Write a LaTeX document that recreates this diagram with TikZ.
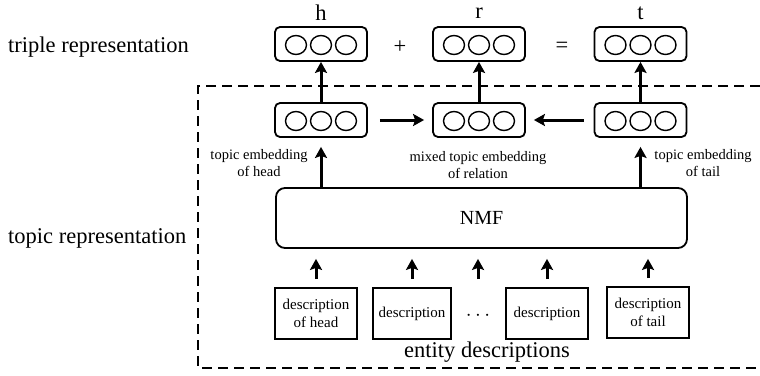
\documentclass[tikz,border=0pt]{standalone}
\usepackage{fontspec}
\setmainfont{Liberation Serif}
\usetikzlibrary{arrows.meta,calc}

\tikzset{
  vecbox/.style={draw, line width=1.8pt, rounded corners=5pt,
    minimum width=92pt, minimum height=34pt, inner sep=0pt},
  descbox/.style={draw, line width=1.8pt, minimum height=51pt,
    inner sep=0pt, align=center,
    font=\fontsize{15}{18}\selectfont},
  bigbox/.style={draw, line width=1.8pt, rounded corners=9pt,
    minimum width=411pt, minimum height=60pt, inner sep=0pt,
    font=\fontsize{20}{24}\selectfont},
  unit/.style={line width=1.4pt},
  arr/.style={line width=3pt, -{Stealth[length=11pt,width=12pt,inset=2pt]}},
  biglabel/.style={font=\fontsize{22.5}{27}\selectfont, inner sep=0pt},
  smalllabel/.style={font=\fontsize{14.5}{17}\selectfont, align=center, inner sep=0pt},
  frame/.style={line width=1.8pt, dash pattern=on 10pt off 6pt},
}

\begin{document}
\begin{tikzpicture}[x=1pt,y=-1pt]
\useasboundingbox (0,0) rectangle (760,375);

% section titles
\node[biglabel, anchor=west] (ttriple) at (8,47) {triple representation};
\node[biglabel, anchor=west] (ttopic) at (8,238) {topic representation};

% dashed frame around the topic part
\draw[frame] (760,86) -- (198,86) -- (198,368) -- (760,368);

% triple vectors
\node[vecbox] (h) at (321,44) {};
\node[vecbox] (r) at (479,44) {};
\node[vecbox] (t) at (640.5,44) {};
\node[biglabel] (lh) at (321,13) {h};
\node[biglabel] (lr) at (479,13) {r};
\node[biglabel] (lt) at (640.5,13) {t};
\node[biglabel] (plus) at (400,47) {+};
\node[biglabel] (eq) at (562,47) {=};

% topic vectors
\node[vecbox] (mh) at (321,120) {};
\node[vecbox] (mr) at (479,120) {};
\node[vecbox] (mt) at (640.5,120) {};

% three units inside each vector
\foreach \v in {h,r,t,mh,mr,mt}{
  \foreach \dx in {-25,0,25}{
    \draw[unit] ($(\v.center)+(\dx,1)$) ellipse [x radius=10.5pt, y radius=9.5pt];
  }
}

% NMF block
\node[bigbox] (nmf) at (481.5,218) {NMF};

% descriptions
\node[descbox, minimum width=82pt] (d1) at (316,313.5) {description\\of head};
\node[descbox, minimum width=78pt] (d2) at (412,313.5) {description};
\node[descbox, minimum width=82pt] (d3) at (547,313.5) {description};
\node[descbox, minimum width=82pt] (d4) at (648,312.5) {description\\of tail};
\node[font=\fontsize{22}{26}\selectfont, inner sep=0pt] (dots) at (478,316) {$\cdots$};
\node[biglabel] (ent) at (487,352) {entity descriptions};

% arrows from descriptions into NMF
\foreach \d in {d1,d2,d3,d4}{
  \draw[arr, shorten <=8pt, shorten >=10pt] (\d.north) -- (\d.north |- nmf.south);
}
\draw[arr, shorten <=8pt, shorten >=10pt] (dots |- d1.north) -- (dots |- nmf.south);

% arrows from NMF to topic vectors
\draw[arr, shorten >=9pt] (nmf.north -| mh) -- (mh.south);
\draw[arr, shorten >=9pt] (nmf.north -| mt) -- (mt.south);

% mixing into the relation vector
\draw[arr, shorten <=12pt, shorten >=8pt] (mh.east) -- (mr.west);
\draw[arr, shorten <=10pt, shorten >=8pt] (mt.west) -- (mr.east);

% topic vectors up to the triple
\draw[arr] (mh.north) -- (h.south);
\draw[arr] (mr.north) -- (r.south);
\draw[arr] (mt.north) -- (t.south);

% embedding labels
\node[smalllabel] (eh) at (259,163.5) {topic embedding\\of head};
\node[smalllabel] (er) at (478,165.5) {mixed topic embedding\\of relation};
\node[smalllabel] (et) at (703,163.5) {topic embedding\\of tail};
\end{tikzpicture}
\end{document}
